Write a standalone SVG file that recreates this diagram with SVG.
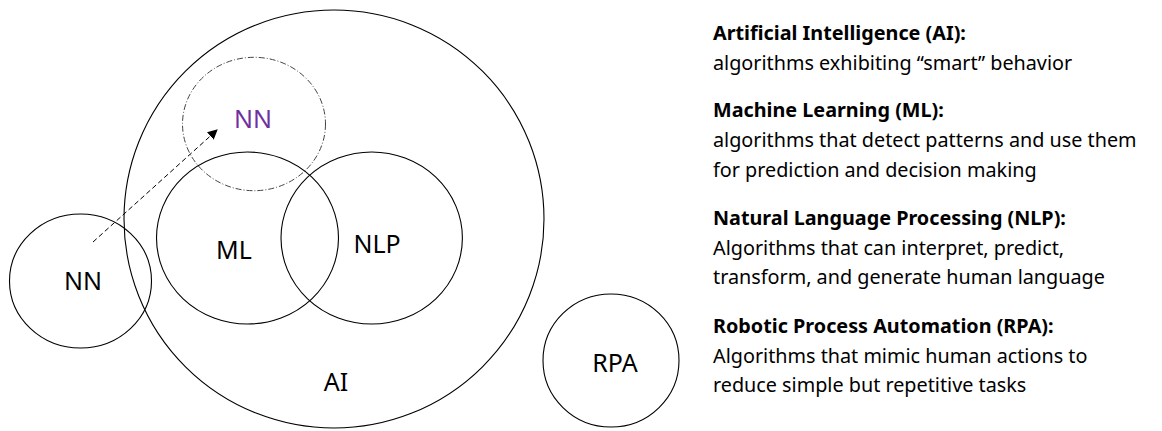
<svg xmlns="http://www.w3.org/2000/svg" width="1162" height="431" viewBox="0 0 1162 431">
<style>
.c{fill:none;stroke:#000;stroke-width:1.1}
.d{fill:none;stroke:#444;stroke-width:1;stroke-dasharray:6 2 1 2}
.lbl{font-family:"Noto Sans","Open Sans",sans-serif;font-size:25px;fill:#000;text-anchor:middle}
.t{font-family:"Noto Sans","Open Sans",sans-serif;font-size:19.8px;fill:#000}
.b{font-weight:bold}
</style>
<defs>
<marker id="ah" markerWidth="10" markerHeight="10" refX="9" refY="5" orient="auto" markerUnits="userSpaceOnUse">
<path d="M0,0 L10,5 L0,10 Z" fill="#000"/>
</marker>
</defs>
<rect width="1162" height="431" fill="#fff"/>
<g id="node-ai"><ellipse class="c" cx="334" cy="219" rx="210" ry="209"/><text class="lbl" x="336" y="391">AI</text></g>
<g id="node-nn-inner"><ellipse class="d" cx="254" cy="124" rx="71.5" ry="66.7"/><text class="lbl" x="253" y="128" style="fill:#7030A0">NN</text></g>
<g id="node-ml"><ellipse class="c" cx="247.5" cy="238" rx="91" ry="86"/><text class="lbl" x="234" y="259">ML</text></g>
<g id="node-nlp"><ellipse class="c" cx="371.7" cy="238" rx="90.7" ry="86"/><text class="lbl" x="377" y="253">NLP</text></g>
<g id="node-nn"><ellipse class="c" cx="80.5" cy="281" rx="71" ry="67"/><text class="lbl" x="83" y="290">NN</text></g>
<g id="node-rpa"><ellipse class="c" cx="611" cy="360.5" rx="68" ry="66.5"/><text class="lbl" x="615" y="372">RPA</text></g>
<g id="connectors">
<line x1="93" y1="242" x2="217" y2="130" stroke="#000" stroke-width="1" stroke-dasharray="5 3" marker-end="url(#ah)"/>
</g>
<g id="legend">
<text class="t b" x="713" y="40">Artificial Intelligence (AI):</text>
<text class="t" x="713" y="70">algorithms exhibiting “smart” behavior</text>
<text class="t b" x="713" y="117">Machine Learning (ML):</text>
<text class="t" x="713" y="147">algorithms that detect patterns and use them</text>
<text class="t" x="713" y="177">for prediction and decision making</text>
<text class="t b" x="713" y="225">Natural Language Processing (NLP):</text>
<text class="t" x="713" y="255">Algorithms that can interpret, predict,</text>
<text class="t" x="713" y="284">transform, and generate human language</text>
<text class="t b" x="713" y="333">Robotic Process Automation (RPA):</text>
<text class="t" x="713" y="363">Algorithms that mimic human actions to</text>
<text class="t" x="713" y="392">reduce simple but repetitive tasks</text>
</g>
</svg>
